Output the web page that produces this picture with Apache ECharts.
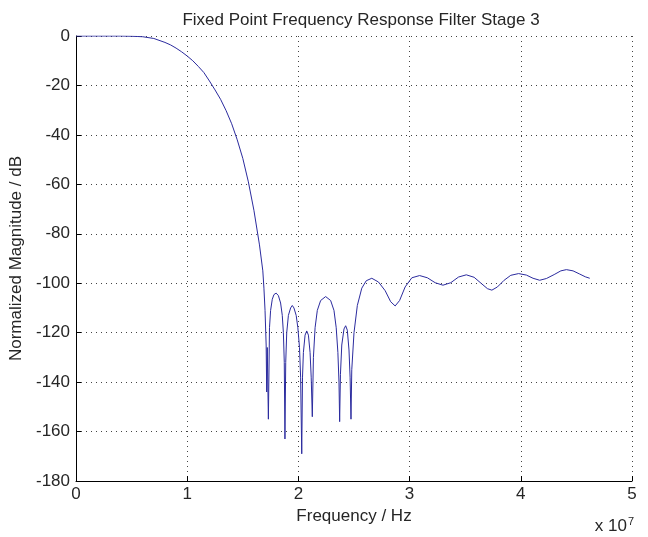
<!DOCTYPE html>
<html>
<head>
<meta charset="utf-8">
<script src="https://cdn.jsdelivr.net/npm/echarts@6/dist/echarts.min.js"></script>
<style>html,body{margin:0;padding:0;background:#fff}#c{width:648px;height:537px}</style>
</head>
<body>
<div id="c"></div>
<script>
// Frequency in units of 1e7 Hz
var freq = [0,0.1,0.2,0.3,0.4,0.5,0.55,0.6,0.7,0.8,0.85,0.9,0.95,1.0,1.05,1.1,1.15,1.2,1.25,1.3,1.35,1.4,1.45,1.5,1.55,1.6,1.65,1.68,1.69,1.70,1.71,1.715,
  1.72,1.73,
  1.74,1.75,1.765,1.78,1.80,1.82,1.84,1.855,1.865,1.873,1.879,
  1.886,1.895,1.91,1.93,1.945,1.96,1.98,1.995,2.01,2.02,2.03,
  2.037,2.045,2.06,2.075,2.09,2.105,2.115,2.125,
  2.135,2.15,2.17,2.2,2.245,2.29,2.32,2.34,2.355,2.365,2.371,
  2.378,2.39,2.41,2.425,2.44,2.455,2.465,2.473,
  2.48,2.5,2.53,2.57,2.61,2.66,
  2.72,2.78,2.83,2.87,2.91,2.96,3.02,3.09,3.16,3.23,3.30,3.37,3.44,3.51,3.58,3.65,3.70,3.74,3.79,3.85,3.91,3.98,4.05,4.11,4.17,4.23,4.30,4.36,4.41,4.47,4.53,4.58,4.62];
var magnitude = [0,0,0,0,0,-0.1,-0.2,-0.3,-1.0,-2.6,-3.6,-4.9,-6.4,-8.1,-10,-12.3,-14.8,-18.2,-21.8,-25.6,-30.2,-35.5,-42,-49.5,-59,-70.5,-84.5,-95,-102,-111,-125,-144,
  -126,-155,
  -118,-111,-106.5,-104.6,-104,-105,-108,-113,-120,-132,-163,
  -132,-120,-113,-110,-109,-110,-113,-118,-126,-138,-169,
  -138,-128,-121,-119.3,-121,-128,-138,-154,
  -130,-118,-111,-107,-105.4,-107,-111,-118,-128,-140,-156,
  -137,-125,-118.5,-117.2,-119,-127,-138,-155,
  -135,-120,-109,-102,-99,-98,
  -99.5,-103,-107.5,-109.2,-107,-101.5,-97.8,-96.9,-97.8,-99.8,-100.8,-99.8,-97.5,-96.6,-97.6,-100.3,-102.2,-102.8,-101.5,-98.8,-96.8,-96.1,-96.7,-98,-98.8,-98.1,-96.5,-95,-94.5,-95,-96.3,-97.4,-98];
var xTicks = [0,1,2,3,4,5];
var yTicks = [-180,-160,-140,-120,-100,-80,-60,-40,-20,0];

var FONT = 'Liberation Sans, Arial, Helvetica, sans-serif';
var TXT = '#262626';
var FS = 17;
var data = freq.map(function(f,i){return [f, magnitude[i]];});

var chart = echarts.init(document.getElementById('c'), null, {renderer:'canvas'});
chart.setOption({
  animation:false,
  backgroundColor:'#ffffff',
  title:{text:'Fixed Point Frequency Response Filter Stage 3', left:356, top:7, textAlign:'center',
    textStyle:{fontFamily:FONT, fontSize:FS, fontWeight:'normal', color:TXT}},
  grid:{left:76, right:16, top:36, bottom:56, containLabel:false},
  xAxis:{type:'value', min:xTicks[0], max:xTicks[xTicks.length-1], interval:1,
    name:'Frequency / Hz', nameLocation:'middle', nameGap:20,
    nameTextStyle:{fontFamily:FONT, fontSize:FS, color:TXT},
    axisLine:{show:true, onZero:false, lineStyle:{color:'#000', width:1}},
    axisTick:{show:true, inside:true, length:5, lineStyle:{color:'#000'}},
    axisLabel:{fontFamily:FONT, fontSize:FS, color:TXT, margin:5},
    splitLine:{show:true, lineStyle:{color:'#444', width:1, type:[1,4]}}},
  yAxis:{type:'value', min:yTicks[0], max:yTicks[yTicks.length-1], interval:20,
    name:'Normalized Magnitude / dB', nameLocation:'middle', nameGap:48, nameRotate:90,
    nameTextStyle:{fontFamily:FONT, fontSize:FS, color:TXT},
    axisLine:{show:true, onZero:false, lineStyle:{color:'#000', width:1}},
    axisTick:{show:true, inside:true, length:5, lineStyle:{color:'#000'}},
    axisLabel:{fontFamily:FONT, fontSize:FS, color:TXT, margin:6},
    splitLine:{show:true, lineStyle:{color:'#444', width:1, type:[1,4]}}},
  graphic:[{type:'text', right:14, top:516,
    style:{text:'x 10{s|7}', rich:{s:{fontSize:11, verticalAlign:'top', padding:[0,0,9,1], fontFamily:FONT, fill:TXT}},
      font:FS+'px '+FONT, fill:TXT}}],
  series:[{type:'line', data:data, showSymbol:false, symbol:'none',
    lineStyle:{color:'#2b2b9e', width:1}, smooth:false}]
});
</script>
</body>
</html>
